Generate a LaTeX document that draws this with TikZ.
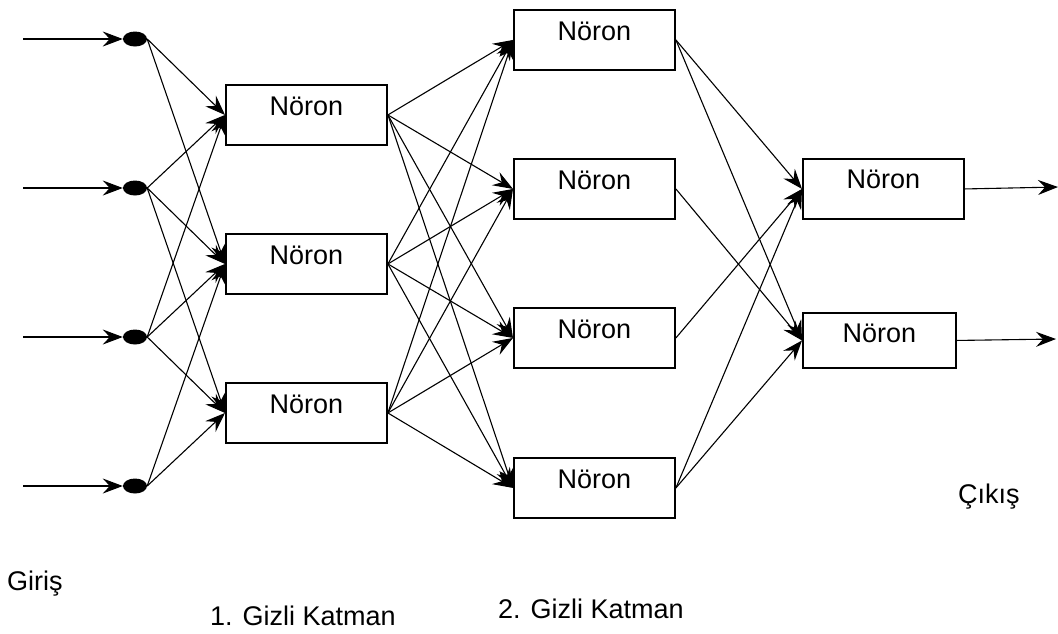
\documentclass[tikz,border=0pt]{standalone}
\usepackage{fontspec}
\setmainfont{Liberation Sans}
\usetikzlibrary{arrows.meta,shapes.geometric}
\begin{document}
\begin{tikzpicture}[x=1pt,y=-1pt,
  labelfont/.style={font=\fontsize{27}{32}\selectfont},
  neuron/.style={draw, line width=1.9pt, inner sep=0pt, anchor=north west,
    minimum width=161pt, text height=31pt, text depth=29pt, labelfont},
  indot/.style={ellipse, fill=black, draw=none, inner sep=0pt,
    minimum width=24pt, minimum height=15pt},
  link/.style={line width=1.1pt, -{Stealth[length=20pt,width=15pt,inset=7pt]}},
  caption/.style={anchor=base west, inner sep=0pt, labelfont}]

% canvas
\useasboundingbox (0,0) rectangle (1058,633);

% input points
\foreach \i/\y in {1/39, 2/188, 3/337, 4/486} {
  \node[indot] (d\i) at (135,\y) {};
  \coordinate (i\i) at (23,\y);
}

% first hidden layer
\node[neuron] (h1) at (225,84)  {Nöron};
\node[neuron] (h2) at (225,233) {Nöron};
\node[neuron] (h3) at (225,382) {Nöron};

% second hidden layer
\node[neuron] (g1) at (513,9)   {Nöron};
\node[neuron] (g2) at (513,158) {Nöron};
\node[neuron] (g3) at (513,307) {Nöron};
\node[neuron] (g4) at (513,457) {Nöron};

% output layer
\node[neuron, text height=30pt, text depth=30pt] (o1) at (802,158) {Nöron};
\node[neuron, minimum width=153pt, text height=30pt, text depth=25pt] (o2) at (802,312) {Nöron};

% output ends
\coordinate (e1) at (1058,187);
\coordinate (e2) at (1056,339);

% inputs into the dots
\foreach \i in {1,...,4} \draw[link] (i\i) -- (d\i.west);

% dots to first hidden layer
\foreach \a/\b in {1/1, 1/2, 2/1, 2/2, 2/3, 3/1, 3/2, 3/3, 4/2, 4/3}
  \draw[link] (d\a.east) -- (h\b.west);

% first to second hidden layer
\foreach \a in {1,2,3}
  \foreach \b in {1,...,4}
    \draw[link] (h\a.east) -- (g\b.west);

% second hidden layer to outputs
\foreach \a/\b in {1/1, 1/2, 2/2, 3/1, 4/1, 4/2}
  \draw[link] (g\a.east) -- (o\b.west);

% outputs
\draw[link] (o1.east) -- (e1);
\draw[link] (o2.east) -- (e2);

% captions
\node[caption] (tin)  at (7,590)   {Giriş};
\node[caption] (tg1)  at (210,625) {1. Gizli Katman};
\node[caption] (tg2)  at (498,618) {2. Gizli Katman};
\node[caption] (tout) at (958,503) {Çıkış};
\end{tikzpicture}
\end{document}
